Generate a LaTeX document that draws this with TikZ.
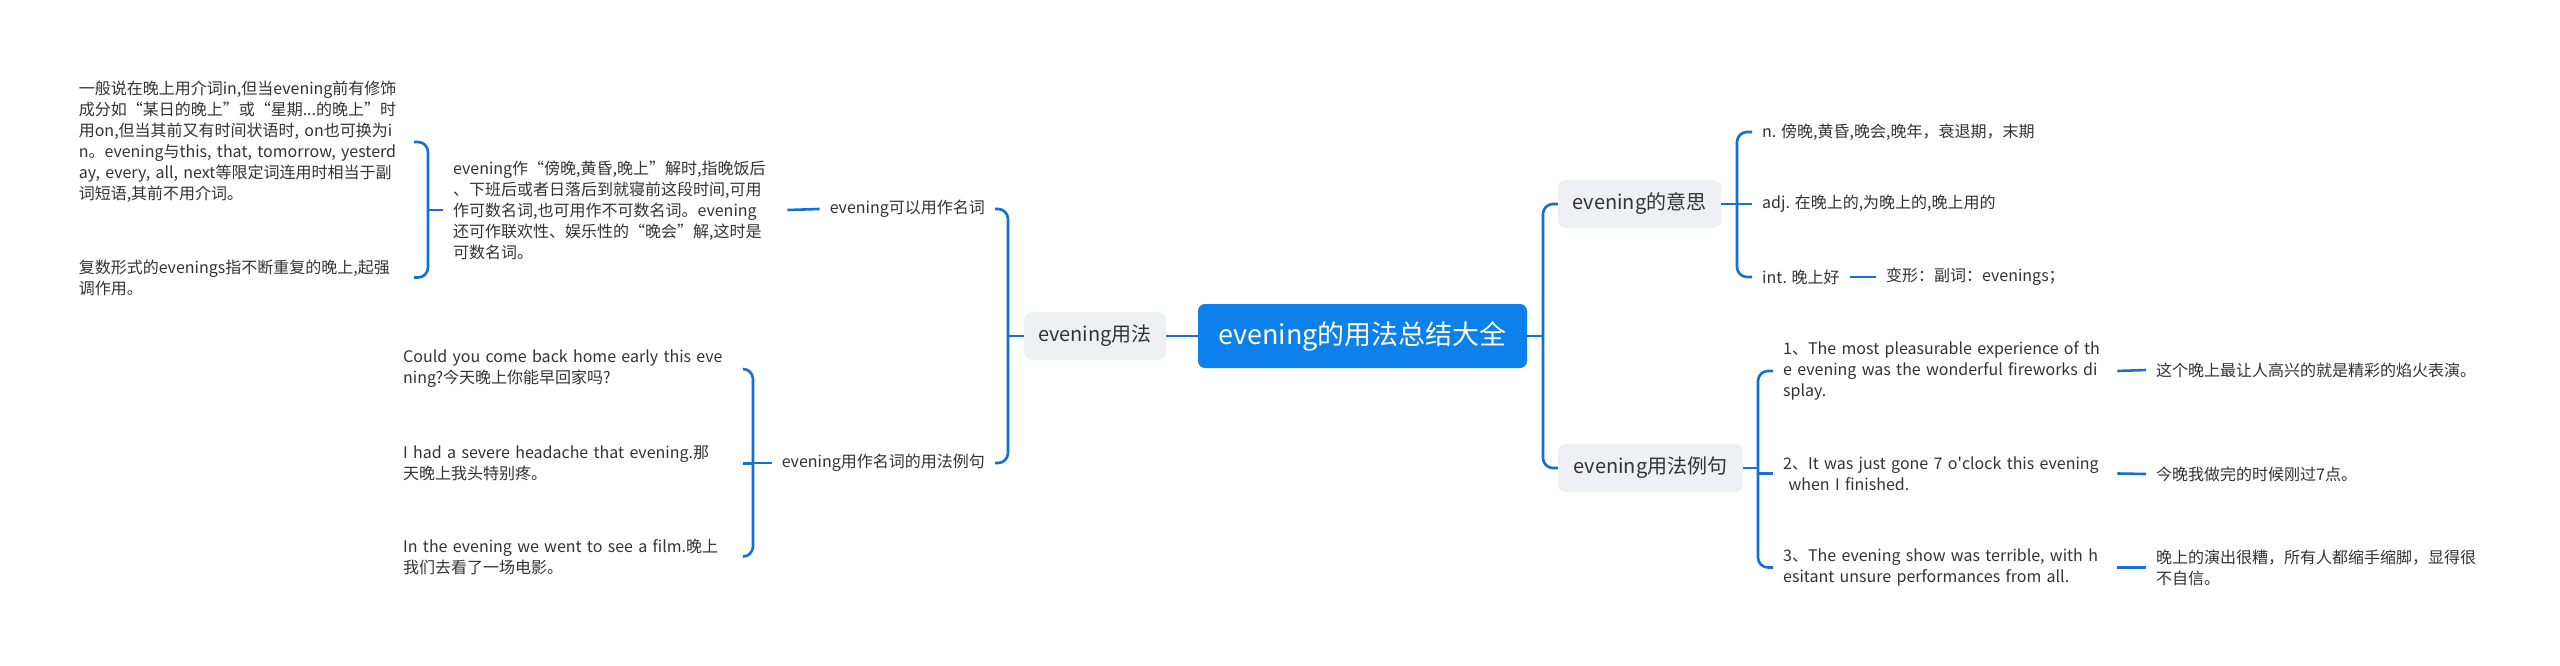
\documentclass[tikz,border=0pt]{standalone}
\usepackage{fontspec}
\setmainfont{Noto Sans CJK SC}
\newfontfamily\plainfont{Noto Sans CJK SC}
\definecolor{linec}{HTML}{1670D2}
\definecolor{rootc}{HTML}{0C80EB}
\definecolor{boxg}{HTML}{EEF0F3}
\definecolor{txt}{HTML}{333333}
\begin{document}
\begin{tikzpicture}[x=1pt,y=-1pt,
  conn/.style={draw=linec, line width=2.6pt, rounded corners=10pt},
  sharpconn/.style={draw=linec, line width=2.6pt},
  rootbox/.style={fill=rootc, rounded corners=7pt, inner sep=0pt, text=white,
    font=\fontsize{27}{32}\selectfont, minimum width=329pt, minimum height=64pt},
  gbox/.style={fill=boxg, rounded corners=8pt, inner sep=0pt, text=txt,
    font=\fontsize{20}{24}\selectfont, minimum height=48pt},
  leaf/.style={inner xsep=10pt, inner ysep=0pt, text=txt,
    font=\fontsize{16}{21}\selectfont, align=left}]
\fill[white] (0,0) rectangle (2560,666);
\useasboundingbox (0,0) rectangle (2560,666);

% main nodes
\node[rootbox] (root) at (1362.5,336) {evening的用法总结大全};
\node[gbox, minimum width=142pt] (usage) at (1095,336) {evening用法};
\node[gbox, minimum width=163pt] (meaning) at (1639.5,204) {evening的意思};
\node[gbox, minimum width=185pt] (examples) at (1650.5,468) {evening用法例句};

% left side
\node[leaf, anchor=east] (noun) at (995,209) {evening可以用作名词};
\node[leaf, anchor=east] (sent) at (995,463) {evening用作名词的用法例句};
\node[leaf, anchor=west, text width=324pt] (desc) at (443,210) {%
\mbox{evening作“傍晚,黄昏,晚上”解时,指晚饭后}\\
\mbox{、下班后或者日落后到就寝前这段时间,可用}\\
\mbox{作可数名词,也可用作不可数名词。evening}\\
\mbox{还可作联欢性、娱乐性的“晚会”解,这时是}\\
\mbox{可数名词。}};
\node[leaf, anchor=east, text width=325pt] (A) at (414,142) {%
\mbox{一般说在晚上用介词in,但当evening前有修饰}\\
\mbox{成分如“某日的晚上”或“星期...的晚上”时}\\
\mbox{用on,但当其前又有时间状语时, on也可换为i}\\
\mbox{n。evening与this, that, tomorrow, yesterd}\\
\mbox{ay, every, all, next等限定词连用时相当于副}\\
\mbox{词短语,其前不用介词。}};
\node[leaf, anchor=east, text width=325pt] (B) at (414,277.5) {%
\mbox{复数形式的evenings指不断重复的晚上,起强}\\
\mbox{调作用。}};
\node[leaf, anchor=west, text width=330pt] (ex1) at (393,369) {%
\mbox{Could you come back home early this eve}\\
\mbox{ning?今天晚上你能早回家吗?}};
\node[leaf, anchor=west, text width=330pt] (ex2) at (393,463.5) {%
\mbox{I had a severe headache that evening.那}\\
\mbox{天晚上我头特别疼。}};
\node[leaf, anchor=west, text width=330pt] (ex3) at (393,556.5) {%
\mbox{In the evening we went to see a film.晚上}\\
\mbox{我们去看了一场电影。}};

% right side
\node[leaf, anchor=west] (n) at (1752,132) {n. 傍晚,黄昏,晚会,晚年，衰退期，末期};
\node[leaf, anchor=west] (adj) at (1752,204) {adj. 在晚上的,为晚上的,晚上用的};
\node[leaf, anchor=west] (int) at (1752,277) {int. 晚上好};
\node[leaf, anchor=west] (form) at (1876,277) {变形：副词：evenings；};
\node[leaf, anchor=west, text width=324pt] (c1) at (1773,371) {%
\mbox{1、The most pleasurable experience of th}\\
\mbox{e evening was the wonderful fireworks di}\\
\mbox{splay.}};
\node[leaf, anchor=west, text width=324pt] (c2) at (1773,473.5) {%
\mbox{2、It was just gone 7 o{\plainfont '}clock this evening}\\
\mbox{\ when I finished.}};
\node[leaf, anchor=west, text width=324pt] (c3) at (1773,567.5) {%
\mbox{3、The evening show was terrible, with h}\\
\mbox{esitant unsure performances from all.}};
\node[leaf, anchor=west, text width=330pt] (t1) at (2146,370) {这个晚上最让人高兴的就是精彩的焰火表演。};
\node[leaf, anchor=west, text width=330pt] (t2) at (2146,474) {今晚我做完的时候刚过7点。};
\node[leaf, anchor=west, text width=330pt] (t3) at (2146,567.5) {%
\mbox{晚上的演出很糟，所有人都缩手缩脚，显得很}\\
\mbox{不自信。}};

% junctions
\coordinate (rj) at (1543,336);
\coordinate (mj) at (1737,204);
\coordinate (ej) at (1758,468);
\coordinate (uj) at (1008,336);
\coordinate (dj) at (428,210);
\coordinate (sj) at (753,463);

% connectors
\draw[sharpconn] (root.west) -- (usage.east);
\draw[sharpconn] (root.east) -- (rj);
\draw[conn] (rj) |- (meaning.west);
\draw[conn] (rj) |- (examples.west);
\draw[sharpconn] (meaning.east) -- (mj);
\draw[conn] (mj) |- (n.west);
\draw[sharpconn] (mj) -- (adj.west);
\draw[conn] (mj) |- (int.west);
\draw[sharpconn] (int.east) -- (form.west);
\draw[sharpconn] (examples.east) -- (ej);
\draw[conn] (ej) |- (c1.west);
\draw[sharpconn] (ej) |- (c2.west);
\draw[conn] (ej) |- (c3.west);
\draw[sharpconn] (c1.east) -- (t1.west);
\draw[sharpconn] (c2.east) -- (t2.west);
\draw[sharpconn] (c3.east) -- (t3.west);
\draw[sharpconn] (usage.west) -- (uj);
\draw[conn] (uj) |- (noun.east);
\draw[conn] (uj) |- (sent.east);
\draw[sharpconn] (noun.west) -- (desc.east);
\draw[sharpconn] (desc.west) -- (dj);
\draw[conn] (dj) |- (A.east);
\draw[conn] (dj) |- (B.east);
\draw[sharpconn] (sent.west) -- (sj);
\draw[conn] (sj) |- (ex1.east);
\draw[sharpconn] (sj) |- (ex2.east);
\draw[conn] (sj) |- (ex3.east);
\end{tikzpicture}
\end{document}
